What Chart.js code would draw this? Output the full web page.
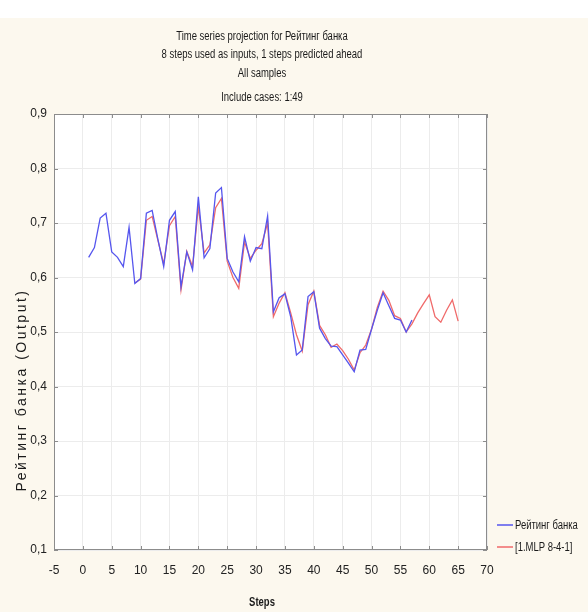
<!DOCTYPE html>
<html>
<head>
<meta charset="utf-8">
<script src="https://cdn.jsdelivr.net/npm/chart.js@4/dist/chart.umd.min.js"></script>
<style>
html,body{margin:0;padding:0;background:#fcf8ee;}
#wrap{width:588px;height:612px;position:relative;}
canvas{display:block;}
</style>
</head>
<body>
<div id="wrap"><canvas id="c" width="588" height="612"></canvas></div>
<script>
const titleLines = [
  'Time series projection for Рейтинг банка',
  '8 steps used as inputs, 1 steps predicted ahead',
  'All samples'
];
const subtitleText = 'Include cases: 1:49';
const xAxisTitle = 'Steps';
const yAxisTitle = 'Рейтинг банка (Output)';
const seriesNames = ['Рейтинг банка', '[1.MLP 8-4-1]'];

const xTicks = [-5, 0, 5, 10, 15, 20, 25, 30, 35, 40, 45, 50, 55, 60, 65, 70];
const yTicks = [0.1, 0.2, 0.3, 0.4, 0.5, 0.6, 0.7, 0.8, 0.9];

// Actual series: steps 1..57
const actualStart = 1;
const actualValues = [
  0.637, 0.655, 0.709, 0.718, 0.647, 0.637, 0.620, 0.692, 0.589, 0.598,
  0.718, 0.723, 0.670, 0.620, 0.705, 0.721, 0.583, 0.647, 0.614, 0.748,
  0.636, 0.653, 0.755, 0.765, 0.635, 0.610, 0.592, 0.675, 0.630, 0.655,
  0.653, 0.713, 0.537, 0.563, 0.570, 0.528, 0.458, 0.467, 0.565, 0.574,
  0.507, 0.488, 0.474, 0.473, 0.458, 0.443, 0.427, 0.467, 0.468, 0.505,
  0.540, 0.572, 0.548, 0.525, 0.522, 0.500, 0.522
];

// Predicted series (MLP 8-4-1): steps 9..65
const predictedStart = 9;
const predictedValues = [
  0.590, 0.597, 0.705, 0.712, 0.668, 0.625, 0.695, 0.712, 0.577, 0.648,
  0.620, 0.730, 0.645, 0.660, 0.728, 0.745, 0.630, 0.600, 0.580, 0.665,
  0.635, 0.650, 0.662, 0.700, 0.528, 0.553, 0.572, 0.535, 0.495, 0.465,
  0.550, 0.575, 0.512, 0.495, 0.472, 0.478, 0.466, 0.450, 0.430, 0.462,
  0.476, 0.505, 0.545, 0.575, 0.558, 0.530, 0.525, 0.500, 0.515, 0.535,
  0.552, 0.568, 0.528, 0.518, 0.540, 0.559, 0.520
];

const NARROW = '"Liberation Sans Narrow", "Arial Narrow", "Liberation Sans", Arial, sans-serif';
const WIDE = '"Liberation Sans", Arial, sans-serif';
const blue = '#5656ee';
const red = '#f06a6a';
const SQ = 0.79; // horizontal condensing of label text

const toPoints = (start, vals) => vals.map((v, i) => ({x: start + i, y: v}));

function condensedText(ctx, text, x, y, align) {
  ctx.save();
  ctx.translate(x, y);
  ctx.scale(SQ, 1);
  ctx.textAlign = align;
  ctx.fillText(text, 0, 0);
  ctx.restore();
}

const decor = {
  id: 'decor',
  beforeDraw(chart) {
    const {ctx, chartArea: a} = chart;
    ctx.save();
    ctx.fillStyle = '#fcf8ee';
    ctx.fillRect(0, 0, chart.width, chart.height);
    ctx.fillStyle = '#ffffff';
    ctx.fillRect(0, 0, chart.width, 18);
    ctx.fillRect(a.left, a.top, a.right - a.left, a.bottom - a.top);
    ctx.restore();
  },
  afterDraw(chart) {
    const {ctx, chartArea: a} = chart;
    const xs = chart.scales.x, ys = chart.scales.y;
    ctx.save();
    // frame
    ctx.strokeStyle = '#8c8c8c';
    ctx.lineWidth = 1;
    ctx.strokeRect(Math.round(a.left) + 0.5, Math.round(a.top) + 0.5,
      Math.round(a.right - a.left) - 1, Math.round(a.bottom - a.top) - 1);
    // inner tick marks
    ctx.beginPath();
    xTicks.forEach(v => {
      const px = Math.round(xs.getPixelForValue(v)) + 0.5;
      ctx.moveTo(px, a.bottom); ctx.lineTo(px, a.bottom - 4);
      ctx.moveTo(px, a.top); ctx.lineTo(px, a.top + 4);
    });
    yTicks.forEach(v => {
      const py = Math.round(ys.getPixelForValue(v)) + 0.5;
      ctx.moveTo(a.left, py); ctx.lineTo(a.left + 4, py);
      ctx.moveTo(a.right, py); ctx.lineTo(a.right - 4, py);
    });
    ctx.stroke();

    // titles
    ctx.fillStyle = '#1a1a1a';
    ctx.textBaseline = 'middle';
    ctx.font = '12px ' + WIDE;
    const tY = [37, 55, 74];
    titleLines.forEach((t, i) => condensedText(ctx, t, 262, tY[i], 'center'));
    condensedText(ctx, subtitleText, 262, 98, 'center');

    // x axis title
    ctx.font = 'bold 12px ' + WIDE;
    condensedText(ctx, xAxisTitle, 262, 603, 'center');

    // y axis title
    ctx.save();
    ctx.translate(22, 390);
    ctx.rotate(-Math.PI / 2);
    ctx.font = '14px ' + WIDE;
    ctx.textAlign = 'center';
    try { ctx.letterSpacing = '2.5px'; } catch (e) {}
    ctx.fillText(yAxisTitle, 0, 0);
    ctx.restore();

    // legend
    const lg = [[blue, 525], [red, 547]];
    ctx.font = '12px ' + WIDE;
    lg.forEach(([c, y], i) => {
      ctx.strokeStyle = c;
      ctx.lineWidth = 1.5;
      ctx.beginPath();
      ctx.moveTo(497, y); ctx.lineTo(513, y);
      ctx.stroke();
      ctx.fillStyle = '#1a1a1a';
      condensedText(ctx, seriesNames[i], 515, y + 1, 'left');
    });
    ctx.restore();
  }
};

new Chart(document.getElementById('c'), {
  type: 'line',
  data: {
    datasets: [
      {label: seriesNames[0], data: toPoints(actualStart, actualValues), borderColor: blue, borderWidth: 1.3},
      {label: seriesNames[1], data: toPoints(predictedStart, predictedValues), borderColor: red, borderWidth: 1.3}
    ]
  },
  options: {
    responsive: false,
    animation: false,
    layout: {padding: {top: 114, right: 101, left: 0, bottom: 0}},
    plugins: {legend: {display: false}, tooltip: {enabled: false}, title: {display: false}},
    elements: {point: {radius: 0}, line: {tension: 0}},
    scales: {
      x: {
        type: 'linear', min: -5, max: 70,
        afterBuildTicks: s => { s.ticks = xTicks.map(v => ({value: v})); },
        afterFit: s => { s.height = 62; },
        ticks: {color: '#222', font: {family: NARROW, size: 12}, padding: 13, maxRotation: 0, autoSkip: false},
        grid: {color: '#ececec', drawTicks: false},
        border: {display: false}
      },
      y: {
        type: 'linear', min: 0.1, max: 0.9,
        afterBuildTicks: s => { s.ticks = yTicks.map(v => ({value: v})); },
        afterFit: s => { s.width = 54; },
        ticks: {color: '#222', font: {family: NARROW, size: 12}, padding: 7,
          callback: v => Number(v).toFixed(1).replace('.', ',')},
        grid: {color: '#ececec', drawTicks: false},
        border: {display: false}
      }
    }
  },
  plugins: [decor]
});
</script>
</body>
</html>
